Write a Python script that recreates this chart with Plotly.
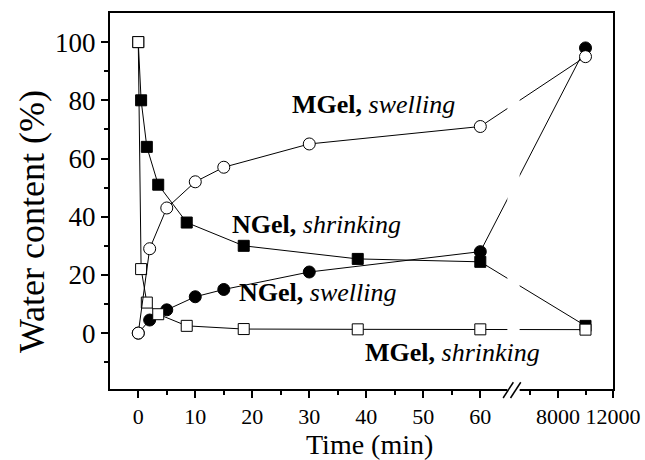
import plotly.graph_objects as go

# ---- data (time in minutes, water content in %) ----
t_ngel_shrink = [0, 0.5, 1.5, 3.5, 8.5, 18.5, 38.5, 60, 10000]
w_ngel_shrink = [100, 80, 64, 51, 38, 30, 25.5, 24.5, 2.5]

t_mgel_shrink = [0, 0.5, 1.5, 3.5, 8.5, 18.5, 38.5, 60, 10000]
w_mgel_shrink = [100, 22, 10.5, 6.5, 2.5, 1.4, 1.3, 1.3, 1.2]

t_ngel_swell = [0, 2, 5, 10, 15, 30, 60, 10000]
w_ngel_swell = [0, 4.5, 8, 12.5, 15, 21, 28, 98]

t_mgel_swell = [0, 2, 5, 10, 15, 30, 60, 10000]
w_mgel_swell = [0, 29, 43, 52, 57, 65, 71, 95]

x_major_ticks = [0, 10, 20, 30, 40, 50, 60, 8000, 12000]
x_minor_ticks = [5, 15, 25, 35, 45, 55, 6000, 10000]
y_major_ticks = [0, 20, 40, 60, 80, 100]
y_minor_ticks = [-10, 10, 30, 50, 70, 90]

# ---- broken time axis: linear 0..65 min, then compressed segment for long times ----
U_8000 = 73.63
K_LONG = 2.4125 / 1000.0


def to_axis(t):
    if t <= 65:
        return t
    return U_8000 + (t - 8000) * K_LONG


def conv(ts):
    return [to_axis(t) for t in ts]


FONT = "Liberation Serif, Times New Roman, serif"

fig = go.Figure()

line_style = dict(color="black", width=1)

fig.add_trace(go.Scatter(x=conv(t_ngel_shrink), y=w_ngel_shrink, mode="lines+markers",
                         line=line_style,
                         marker=dict(symbol="square", size=11, color="black",
                                     line=dict(color="black", width=1)),
                         showlegend=False))
fig.add_trace(go.Scatter(x=conv(t_ngel_swell), y=w_ngel_swell, mode="lines+markers",
                         line=line_style,
                         marker=dict(symbol="circle", size=12, color="black",
                                     line=dict(color="black", width=1)),
                         showlegend=False))
fig.add_trace(go.Scatter(x=conv(t_mgel_shrink), y=w_mgel_shrink, mode="lines+markers",
                         line=line_style,
                         marker=dict(symbol="square", size=11, color="white",
                                     line=dict(color="black", width=1)),
                         showlegend=False))
fig.add_trace(go.Scatter(x=conv(t_mgel_swell), y=w_mgel_swell, mode="lines+markers",
                         line=line_style,
                         marker=dict(symbol="circle", size=12, color="white",
                                     line=dict(color="black", width=1)),
                         showlegend=False))

x_lo, x_hi = -4.96, to_axis(12000)

fig.update_xaxes(range=[x_lo, x_hi], showgrid=False, zeroline=False, automargin=False,
                 showline=True, linecolor="black", linewidth=2, mirror=True,
                 ticks="outside", ticklen=7, tickwidth=2, tickcolor="black",
                 tickangle=0,
                 tickmode="array", tickvals=conv(x_major_ticks),
                 ticktext=[str(v) for v in x_major_ticks],
                 tickfont=dict(family=FONT, size=22, color="black"),
                 minor=dict(tickmode="array", tickvals=conv(x_minor_ticks),
                            ticks="outside", ticklen=4, tickwidth=2, tickcolor="black"))
fig.update_yaxes(range=[-19.2, 110], showgrid=False, zeroline=False, automargin=False,
                 showline=True, linecolor="black", linewidth=2, mirror=True,
                 ticks="outside", ticklen=7, tickwidth=2, tickcolor="black",
                 tickmode="array", tickvals=y_major_ticks,
                 ticktext=[str(v) for v in y_major_ticks],
                 tickfont=dict(family=FONT, size=27, color="black"),
                 minor=dict(tickmode="array", tickvals=y_minor_ticks,
                            ticks="outside", ticklen=4, tickwidth=2, tickcolor="black"))

# axis break: blank band and "//" marks
fig.add_shape(type="rect", xref="x", yref="paper", x0=64.75, x1=66.9, y0=-0.03, y1=0.99,
              fillcolor="white", line=dict(width=0), layer="above")
fig.add_shape(type="line", xref="x", yref="paper", x0=64.0, x1=65.8, y0=-0.024, y1=0.018,
              line=dict(color="black", width=1.5), layer="above")
fig.add_shape(type="line", xref="x", yref="paper", x0=65.3, x1=67.1, y0=-0.024, y1=0.018,
              line=dict(color="black", width=1.5), layer="above")

labels = [
    ("<b>MGel,</b> <i>swelling</i>", 26.6, 78.5, "left"),
    ("<b>NGel,</b> <i>shrinking</i>", 16.1, 37.2, "left"),
    ("<b>NGel,</b> <i>swelling</i>", 17.3, 13.9, "left"),
    ("<b>MGel,</b> <i>shrinking</i>", 70.8, -6.8, "right"),
]
for txt, ax_, ay_, anc in labels:
    fig.add_annotation(x=ax_, y=ay_, xref="x", yref="y", text=txt, showarrow=False,
                       xanchor=anc, yanchor="middle",
                       font=dict(family=FONT, size=26, color="black"))

fig.add_annotation(x=0.515, y=-0.1475, xref="paper", yref="paper", text="Time (min)",
                   showarrow=False, xanchor="center", yanchor="middle",
                   font=dict(family=FONT, size=28, color="black"))
fig.add_annotation(x=-0.155, y=0.444, xref="paper", yref="paper", text="Water content (%)",
                   showarrow=False, xanchor="center", yanchor="middle", textangle=-90,
                   font=dict(family=FONT, size=36, color="black"))

fig.update_layout(width=645, height=460, margin=dict(l=110, r=32, t=13, b=71),
                  paper_bgcolor="white", plot_bgcolor="white")

fig.write_html("out.html", config={"displayModeBar": False},
               post_script="document.body.style.margin='0px';document.body.style.overflow='hidden';")
